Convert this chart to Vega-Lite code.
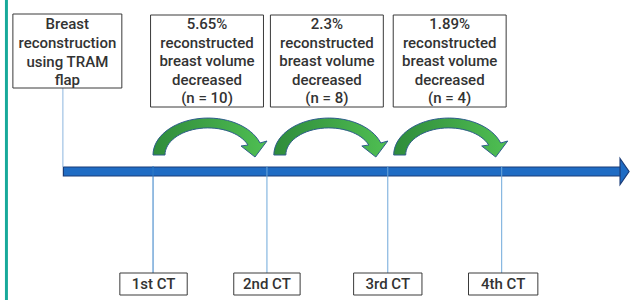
{
  "$schema": "https://vega.github.io/schema/vega-lite/v6.json",
  "width": 632,
  "height": 300,
  "autosize": {"type": "fit", "contains": "padding"},
  "padding": 0,
  "background": "white",
  "config": {"view": {"stroke": null}, "axis": null},
  "datasets": {
    "bars": [{"x": 5, "x2": 8, "y": 0, "y2": 300}],
    "connectors": [
      {"id": "box", "x": 63.5, "y": 88, "y2": 167},
      {"id": "ct1", "x": 154.5, "y": 166, "y2": 273},
      {"id": "ct", "x": 269.5, "y": 166, "y2": 273},
      {"id": "ct", "x": 391.5, "y": 166, "y2": 273},
      {"id": "ct", "x": 506.5, "y": 166, "y2": 273}
    ],
    "timeline": [{"x": 64, "x2": 627, "y": 167, "y2": 176}],
    "head": [{"x": 626, "y": 171.5}],
    "curves": [
      {"x": 210, "y": 155},
      {"x": 332, "y": 155},
      {"x": 453, "y": 155}
    ],
    "boxes": [
      {"x": 13, "x2": 123, "y": 14, "y2": 88},
      {"x": 152, "x2": 266, "y": 15, "y2": 107},
      {"x": 273, "x2": 387, "y": 15, "y2": 107},
      {"x": 397, "x2": 511, "y": 15, "y2": 107},
      {"x": 121, "x2": 189, "y": 273, "y2": 295},
      {"x": 236, "x2": 303, "y": 273, "y2": 295},
      {"x": 357, "x2": 426, "y": 273, "y2": 295},
      {"x": 473, "x2": 543, "y": 273, "y2": 295}
    ],
    "labels": [
      {"x": 68, "y": 24, "t": "Breast"},
      {"x": 68, "y": 43, "t": "reconstruction"},
      {"x": 68, "y": 62, "t": "using TRAM"},
      {"x": 68, "y": 80, "t": "flap"},
      {"x": 209, "y": 24, "t": "5.65%"},
      {"x": 209, "y": 43, "t": "reconstructed"},
      {"x": 209, "y": 61, "t": "breast volume"},
      {"x": 209, "y": 80, "t": "decreased"},
      {"x": 209, "y": 98, "t": "(n = 10)"},
      {"x": 330, "y": 24, "t": "2.3%"},
      {"x": 330, "y": 43, "t": "reconstructed"},
      {"x": 330, "y": 61, "t": "breast volume"},
      {"x": 330, "y": 80, "t": "decreased"},
      {"x": 330, "y": 98, "t": "(n = 8)"},
      {"x": 454, "y": 24, "t": "1.89%"},
      {"x": 454, "y": 43, "t": "reconstructed"},
      {"x": 454, "y": 61, "t": "breast volume"},
      {"x": 454, "y": 80, "t": "decreased"},
      {"x": 454, "y": 98, "t": "(n = 4)"},
      {"x": 155, "y": 284, "t": "1st CT"},
      {"x": 269.5, "y": 284, "t": "2nd CT"},
      {"x": 391.5, "y": 284, "t": "3rd CT"},
      {"x": 508, "y": 284, "t": "4th CT"}
    ]
  },
  "layer": [
    {
      "data": {"name": "bars"},
      "mark": {"type": "rect", "fill": "#17a99a"},
      "encoding": {
        "x": {"field": "x", "type": "quantitative", "scale": {"domain": [0, 632], "nice": false, "zero": false}, "axis": null},
        "x2": {"field": "x2"},
        "y": {"field": "y", "type": "quantitative", "scale": {"domain": [0, 300], "nice": false, "zero": false, "reverse": true}, "axis": null},
        "y2": {"field": "y2"}
      }
    },
    {
      "data": {"name": "timeline"},
      "mark": {"type": "rect", "fill": "#1f6cc4", "stroke": "#1b3c78", "strokeWidth": 1.2},
      "encoding": {
        "x": {"field": "x", "type": "quantitative"},
        "x2": {"field": "x2"},
        "y": {"field": "y", "type": "quantitative"},
        "y2": {"field": "y2"}
      }
    },
    {
      "data": {"name": "head"},
      "mark": {"type": "point", "filled": true, "size": 4, "shape": "M 0 -13 L 9 0 L 0 13 Z", "fill": "#1f6cc4", "stroke": "#1b3c78", "strokeWidth": 1.2, "opacity": 1},
      "encoding": {
        "x": {"field": "x", "type": "quantitative"},
        "y": {"field": "y", "type": "quantitative"}
      }
    },
    {
      "data": {"name": "connectors"},
      "mark": {"type": "rule", "strokeWidth": 1, "opacity": 1},
      "encoding": {
        "x": {"field": "x", "type": "quantitative"},
        "y": {"field": "y", "type": "quantitative"},
        "y2": {"field": "y2"},
        "color": {"field": "id", "type": "nominal", "legend": null, "scale": {"domain": ["box", "ct1", "ct"], "range": ["#8db6df", "#2f7cc6", "#6ea8da"]}}
      }
    },
    {
      "data": {"name": "curves"},
      "mark": {
        "type": "point",
        "filled": true,
        "size": 4,
        "opacity": 1,
        "shape": "M -55 0 A 55 37 0 0 1 52 -12 L 59 -14 L 47 2 L 33 -9 L 40 -10 A 43 27 0 0 0 -43 0 Z",
        "fill": {"gradient": "linear", "x1": 0, "y1": 0, "x2": 1, "y2": 0, "stops": [{"offset": 0, "color": "#2f8c3b"}, {"offset": 0.5, "color": "#3fa447"}, {"offset": 1, "color": "#4fbf52"}]},
        "stroke": "#2e5d8c",
        "strokeWidth": 1
      },
      "encoding": {
        "x": {"field": "x", "type": "quantitative"},
        "y": {"field": "y", "type": "quantitative"}
      }
    },
    {
      "data": {"name": "boxes"},
      "mark": {"type": "rect", "fill": "white", "stroke": "#3a3a3a", "strokeWidth": 1},
      "encoding": {
        "x": {"field": "x", "type": "quantitative"},
        "x2": {"field": "x2"},
        "y": {"field": "y", "type": "quantitative"},
        "y2": {"field": "y2"}
      }
    },
    {
      "data": {"name": "labels"},
      "mark": {"type": "text", "font": "Roboto", "fontSize": 15, "fontWeight": 500, "color": "#333333", "align": "center", "baseline": "middle"},
      "encoding": {
        "x": {"field": "x", "type": "quantitative"},
        "y": {"field": "y", "type": "quantitative"},
        "text": {"field": "t", "type": "nominal"}
      }
    }
  ]
}
